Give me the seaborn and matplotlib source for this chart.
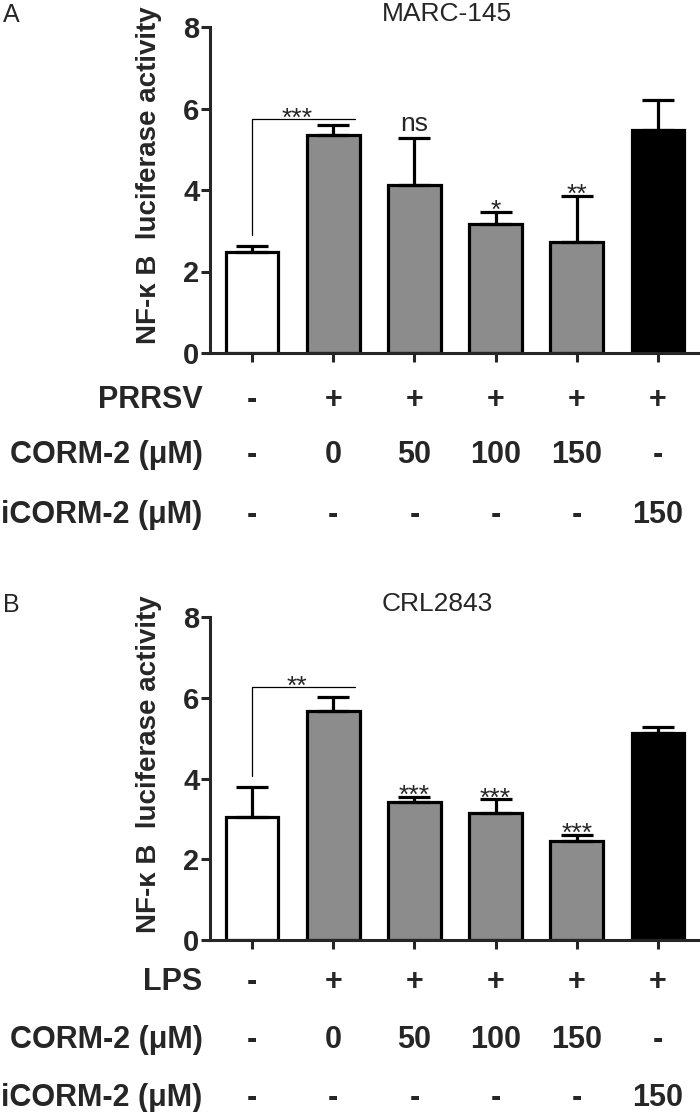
import matplotlib
matplotlib.use("Agg")
import matplotlib.pyplot as plt
import matplotlib.transforms as mtransforms
import numpy as np
import pandas as pd
import seaborn as sns

# ---- data -------------------------------------------------------------
groups = ["g1", "g2", "g3", "g4", "g5", "g6"]
bar_colors = ["#ffffff", "#8c8c8c", "#8c8c8c", "#8c8c8c", "#8c8c8c", "#000000"]

marc_mean = [2.47, 5.35, 4.12, 3.17, 2.73, 5.47]
marc_err = [0.15, 0.25, 1.15, 0.30, 1.12, 0.74]
marc_sig = ["", "", "ns", "*", "**", ""]

crl_mean = [3.04, 5.66, 3.42, 3.14, 2.46, 5.13]
crl_err = [0.74, 0.36, 0.13, 0.34, 0.14, 0.14]
crl_sig = ["", "", "***", "***", "***", ""]

infect_a = ["-", "+", "+", "+", "+", "+"]
infect_b = ["-", "+", "+", "+", "+", "+"]
corm_doses = ["-", "0", "50", "100", "150", "-"]
icorm_doses = ["-", "-", "-", "-", "-", "150"]

yticks = [0, 2, 4, 6, 8]
ytick_labels = ["0", "2", "4", "6", "8"]
ylabel = "NF-\u03ba B  luciferase activity"

sns.set_style("ticks")
plt.rcParams["font.family"] = ["Liberation Sans", "DejaVu Sans"]
plt.rcParams["axes.linewidth"] = 2.2


def draw_panel(ax, means, errs, sig, bracket, rows, title, letter):
    df = pd.DataFrame({"group": groups, "value": means})
    sns.barplot(data=df, x="group", y="value", hue="group", order=groups,
                palette=dict(zip(groups, bar_colors)), legend=False,
                width=0.65, edgecolor="black", linewidth=2.3, ax=ax)
    x = np.arange(len(groups))
    ax.errorbar(x, means, yerr=[np.zeros(len(errs)), errs], fmt="none",
                ecolor="black", elinewidth=2.3, capsize=11.5, capthick=2.3,
                zorder=1)

    ax.set_xlim(-0.517, 5.517)
    ax.set_ylim(0, 8)
    ax.set_yticks(yticks, labels=ytick_labels, fontsize=21, fontweight="bold")
    ax.set_xticks(x, labels=[""] * len(x))
    ax.set_xlabel("")
    ax.set_ylabel("")
    ax.tick_params(axis="y", length=6.5, width=2.2, pad=1)
    ax.tick_params(axis="x", length=6.5, width=2.2)
    sns.despine(ax=ax)

    # significance marks over single bars
    for i, s in enumerate(sig):
        if not s:
            continue
        top = means[i] + errs[i]
        off = 0.17 if s == "ns" else -0.15
        ax.text(i, top + off, s, ha="center", va="baseline", fontsize=19)

    # comparison bracket
    b_left, b_top, b_text = bracket
    ax.plot([0, 0, 1.27], [b_left, b_top, b_top], color="black", lw=0.9)
    ax.text(0.55, b_top - 0.17, b_text, ha="center", va="baseline", fontsize=19)

    ax.text(0.35, 1.04, title, transform=ax.transAxes, ha="left",
            va="center", fontsize=19)
    ax.text(-0.124, 0.545, ylabel, transform=ax.transAxes, rotation=90,
            ha="center", va="center", fontsize=20, fontweight="bold")
    ax.text(-0.405, 1.037, letter, transform=ax.transAxes, ha="center",
            va="center", fontsize=18)

    trans = mtransforms.blended_transform_factory(ax.transData, ax.transAxes)
    for (name, vals, yy) in rows:
        ax.text(-0.015, yy, name, transform=ax.transAxes, ha="right",
                va="center", fontsize=22, fontweight="bold")
        for i, v in enumerate(vals):
            ax.text(i, yy, v, transform=trans, ha="center", va="center",
                    fontsize=22, fontweight="bold")


fig = plt.figure(figsize=(7, 11.12), dpi=100)
ax_a = fig.add_axes([0.3, 1 - 353 / 1112, 0.7, 326 / 1112])
ax_b = fig.add_axes([0.3, 1 - 940 / 1112, 0.7, 323 / 1112])

draw_panel(ax_a, marc_mean, marc_err, marc_sig, (2.9, 5.75, "***"),
           [("PRRSV", infect_a, -0.144),
            ("CORM-2 (\u03bcM)", corm_doses, -0.313),
            ("iCORM-2 (\u03bcM)", icorm_doses, -0.496)],
           "MARC-145", "A")
draw_panel(ax_b, crl_mean, crl_err, crl_sig, (4.07, 6.26, "**"),
           [("LPS", infect_b, -0.130),
            ("CORM-2 (\u03bcM)", corm_doses, -0.310),
            ("iCORM-2 (\u03bcM)", icorm_doses, -0.490)],
           "CRL2843", "B")

fig.savefig("out.png", dpi=100)
plt.close(fig)
